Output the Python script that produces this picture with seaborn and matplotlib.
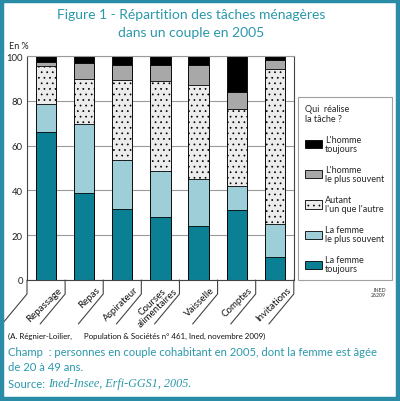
import matplotlib
matplotlib.use("Agg")
import matplotlib.pyplot as plt
import matplotlib.transforms as mtransforms
from matplotlib.patches import Patch, Rectangle
import seaborn as sns
import numpy as np

# ---- data ----
categories = ["Repassage", "Repas", "Aspirateur", "Courses\nalimentaires",
              "Vaisselle", "Comptes", "Invitations"]
femme_toujours = [66.0, 39.0, 31.5, 28.0, 24.0, 31.2, 10.3]
femme_souvent = [12.5, 30.5, 22.0, 20.5, 21.0, 10.6, 14.8]
autant = [17.0, 20.3, 35.8, 40.4, 42.3, 34.5, 69.2]
homme_souvent = [2.0, 7.0, 6.7, 7.2, 8.8, 7.6, 3.9]
homme_toujours = [2.5, 3.2, 4.0, 3.9, 3.9, 16.1, 1.8]
yticks = [0, 20, 40, 60, 80, 100]
legend_labels = ["L'homme\ntoujours", "L'homme\nle plus souvent",
                 "Autant\nl'un que l'autre", "La femme\nle plus souvent",
                 "La femme\ntoujours"]

TEAL = "#0b7f93"
LIGHT = "#9ecfd9"
GREY = "#a8a8a8"
DOTBG = "#ececec"
BLACK = "#000000"
FRAME = "#2a8ca6"
TITLEC = "#2a98aa"

sns.set_theme(style="white")
plt.rcParams["font.family"] = ["Lato", "DejaVu Sans"]
plt.rcParams["hatch.linewidth"] = 0.5
plt.rcParams["hatch.color"] = "black"

fig = plt.figure(figsize=(4.0, 4.02), dpi=100)
ax = fig.add_axes([0.0675, 0.301, 0.667, 0.557])

layers = [femme_toujours, femme_souvent, autant, homme_souvent, homme_toujours]
colors = [TEAL, LIGHT, DOTBG, GREY, BLACK]
hatches = [None, None, "...", None, None]
cum = np.cumsum(np.array(layers), axis=0)

# draw from the top layer down so each lower stack overlays
for k in range(len(layers) - 1, -1, -1):
    sns.barplot(x=list(range(len(categories))), y=cum[k], color=colors[k],
                width=0.53, edgecolor="black", linewidth=0.6,
                hatch=hatches[k], ax=ax, saturation=1, errorbar=None)

ax.set_xlim(-0.5, len(categories) - 0.5)
ax.set_ylim(0, 100)
ax.set_yticks(yticks)
ax.set_yticklabels([str(v) for v in yticks], fontsize=6.8, color="#222222")
ax.tick_params(axis="y", length=0, pad=3)
ax.set_xticks([])
ax.set_xlabel("")
ax.set_ylabel("")
ax.yaxis.grid(True, color="#9a9a9a", linewidth=0.8)
ax.set_axisbelow(True)
for s in ["left", "right", "bottom"]:
    ax.spines[s].set_visible(True)
    ax.spines[s].set_color("#444444")
    ax.spines[s].set_linewidth(0.8)
ax.spines["top"].set_visible(True)
ax.spines["top"].set_color("#9a9a9a")
ax.spines["top"].set_linewidth(0.8)

# category separators below the axis (vertical stub then diagonal)
blend = mtransforms.blended_transform_factory(ax.transData, ax.transAxes)
for b in np.arange(-0.5, len(categories), 1.0):
    ax.plot([b, b, b - 25 / 38.2], [0, -14 / 224, -44 / 224],
            transform=blend, color="#444444", lw=0.8, clip_on=False)

for i, c in enumerate(categories):
    nl = c.count("\n")
    ax.text(i + 0.30 - 0.12 * nl, (-5 + 5 * nl) / 224, c, transform=blend,
            rotation=44, rotation_mode="anchor", ha="right", va="top",
            multialignment="center", fontsize=7, color="#111111",
            linespacing=0.9)

# titles and labels
fig.text(0.478, 0.962, "Figure 1 - Répartition des tâches ménagères",
         ha="center", va="center", fontsize=10, color=TITLEC)
fig.text(0.478, 0.918, "dans un couple en 2005",
         ha="center", va="center", fontsize=10, color=TITLEC)
fig.text(0.022, 0.885, "En %", ha="left", va="center", fontsize=6.5,
         color="#222222")

# legend
handles = [
    Patch(facecolor=BLACK, edgecolor="black", linewidth=0.6),
    Patch(facecolor=GREY, edgecolor="black", linewidth=0.6),
    Patch(facecolor=DOTBG, edgecolor="black", linewidth=0.6, hatch="..."),
    Patch(facecolor=LIGHT, edgecolor="black", linewidth=0.6),
    Patch(facecolor=TEAL, edgecolor="black", linewidth=0.6),
]
leg = fig.legend(handles, legend_labels, loc="upper left",
                 bbox_to_anchor=(0.745, 0.757), fontsize=6.5,
                 title="Qui  réalise\nla tâche ?", title_fontsize=6.5,
                 alignment="left", frameon=True, fancybox=False,
                 edgecolor="#888888", labelspacing=1.38, handlelength=1.9,
                 handleheight=1.0, handletextpad=0.3, borderpad=0.8,
                 borderaxespad=0)
leg.get_frame().set_linewidth(0.8)
for t in leg.get_texts():
    t.set_linespacing(0.95)
leg.get_title().set_linespacing(1.1)

fig.text(0.965, 0.272, "INED\n26209", ha="right", va="center",
         fontsize=3.8, color="#333333", linespacing=1.0)

# notes
fig.text(0.02, 0.162,
         "(A. Régnier-Loilier,      Population & Sociétés n° 461, Ined, novembre 2009)",
         ha="left", va="center", fontsize=5.7, color="#111111")
fig.text(0.02, 0.122,
         "Champ  : personnes en couple cohabitant en 2005, dont la femme est âgée",
         ha="left", va="center", fontsize=8.1, color=TITLEC)
fig.text(0.02, 0.087, "de 20 à 49 ans.", ha="left", va="center",
         fontsize=8.1, color=TITLEC)
t1 = fig.text(0.02, 0.036, "Source: ", ha="left", va="baseline",
              fontsize=8.1, color=TITLEC)
fig.canvas.draw()
ax.annotate("Ined-Insee, Erfi-GGS1, 2005.", xy=(1, 0), xycoords=t1,
            ha="left", va="bottom", fontsize=8.7, color=TITLEC,
            family=["Liberation Serif", "DejaVu Serif"], style="italic",
            annotation_clip=False)

# outer frame
fig.patches.append(Rectangle((0.005, 0.005), 0.99, 0.99,
                             transform=fig.transFigure, fill=False,
                             edgecolor=FRAME, linewidth=3.2))

fig.savefig("out.png", dpi=100)
